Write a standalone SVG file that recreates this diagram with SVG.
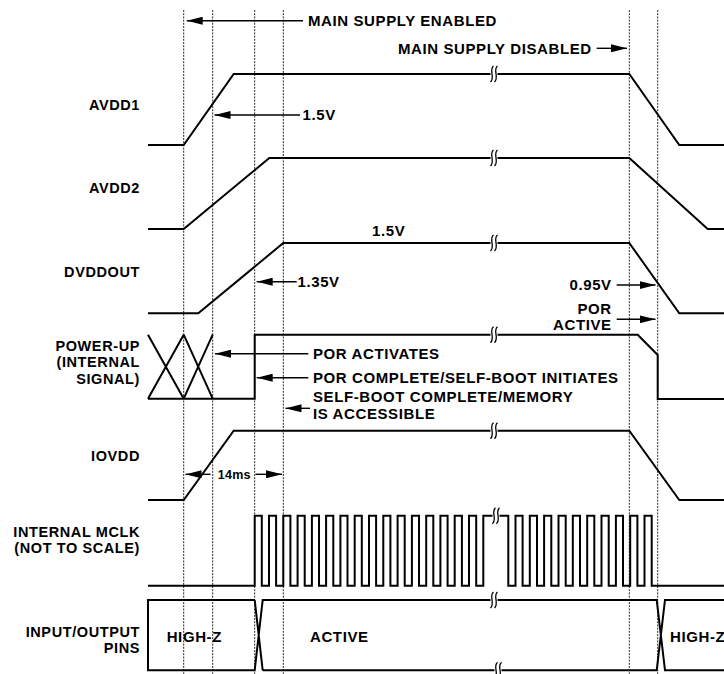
<svg xmlns="http://www.w3.org/2000/svg" xmlns:xlink="http://www.w3.org/1999/xlink" width="724" height="674" viewBox="0 0 724 674">
<style>
.sig{fill:none;stroke:#000;stroke-width:2;stroke-linejoin:miter}
.grid{stroke:#111;stroke-width:0.9;stroke-dasharray:2 1.2}
.arr{stroke:#000;stroke-width:1.4;fill:none}
.arrL{marker-end:url(#ah)}
text{font-family:"Liberation Sans",Arial,Helvetica,sans-serif;font-weight:bold;font-size:15px;letter-spacing:0.6px;fill:#000}
.lbl{text-anchor:end;font-size:14.5px}
.sm{font-size:12.5px;letter-spacing:0.3px}
.brk{fill:none;stroke:#000;stroke-width:1.3}
</style>
<defs>
<marker id="ah" markerUnits="userSpaceOnUse" viewBox="0 0 16 8" markerWidth="16" markerHeight="8" refX="16" refY="4" orient="auto">
<path d="M0,0 L16,4 L0,8 z" fill="#000"/>
</marker>
<g id="brk">
<rect x="-3.5" y="-3" width="7" height="6" fill="#fff"/>
<path class="brk" d="M-0.5,-8 C-5.5,-4 1.5,3 -3.5,8"/>
<path class="brk" d="M3.5,-8 C-1.5,-4 5.5,3 0.5,8"/>
</g>
</defs>
<rect width="724" height="674" fill="#fff"/>

<g id="gridlines">
<line class="grid" x1="183.7" y1="10" x2="183.7" y2="674"/>
<line class="grid" x1="212.7" y1="10" x2="212.7" y2="674"/>
<line class="grid" x1="254.7" y1="10" x2="254.7" y2="674"/>
<line class="grid" x1="283.3" y1="10" x2="283.3" y2="674"/>
<line class="grid" x1="629.3" y1="10" x2="629.3" y2="674"/>
<line class="grid" x1="657.7" y1="10" x2="657.7" y2="674"/>
</g>

<g id="avdd1">
<text class="lbl" x="140" y="110">AVDD1</text>
<path class="sig" d="M148,145 H183.7 L233.7,74 H629.3 L679.3,145 H724"/>
<use xlink:href="#brk" x="494" y="74"/>
</g>

<g id="avdd2">
<text class="lbl" x="140" y="192.5">AVDD2</text>
<path class="sig" d="M148,229 H183.7 L269.3,158 H629.3 L707.7,229 H724"/>
<use xlink:href="#brk" x="494" y="158"/>
</g>

<g id="dvddout">
<text class="lbl" x="140" y="276.5">DVDDOUT</text>
<path class="sig" d="M148,313.3 H198.3 L283.3,243 H629.3 L679.3,313.3 H724"/>
<use xlink:href="#brk" x="494" y="243"/>
<text x="372" y="235.5">1.5V</text>
</g>

<g id="powerup">
<text class="lbl" x="140" y="350.5">POWER-UP</text>
<text class="lbl" x="140" y="367">(INTERNAL</text>
<text class="lbl" x="140" y="384">SIGNAL)</text>
<path class="sig" d="M148,334.7 L183.7,398.7 M183.7,334.7 L148,398.7 M183.7,334.7 L212.7,398.7 M212.7,334.7 L183.7,398.7"/>
<path class="sig" d="M148,398.7 H254.7 V334.7 H637.7 L657.7,355 V399 H724"/>
<use xlink:href="#brk" x="494" y="334.7"/>
</g>

<g id="iovdd">
<text class="lbl" x="140" y="461">IOVDD</text>
<path class="sig" d="M148,500 H183.7 L233.7,430.7 H629.3 L679.3,500 H724"/>
<use xlink:href="#brk" x="494" y="430.7"/>
</g>

<g id="mclk">
<text class="lbl" x="140" y="537">INTERNAL MCLK</text>
<text class="lbl" x="140" y="552.5">(NOT TO SCALE)</text>
<path class="sig" d="M148,585.7 H254.7 V515.7 H261.8 V585.7 H269 V515.7 H276.1 V585.7 H283.3 V515.7 H290.4 V585.7 H297.6 V515.7 H304.7 V585.7 H311.9 V515.7 H319 V585.7 H326.1 V515.7 H333.3 V585.7 H340.4 V515.7 H347.5 V585.7 H354.7 V515.7 H361.8 V585.7 H369 V515.7 H376.1 V585.7 H383.3 V515.7 H390.4 V585.7 H397.6 V515.7 H404.7 V585.7 H411.9 V515.7 H419 V585.7 H426.2 V515.7 H433.3 V585.7 H440.4 V515.7 H447.6 V585.7 H454.7 V515.7 H461.9 V585.7 H469 V515.7 H476.2 V585.7 H483.3 V515.7 H508.3 V585.7 H515.5 V515.7 H522.6 V585.7 H529.8 V515.7 H537 V585.7 H544.1 V515.7 H551.3 V585.7 H558.5 V515.7 H565.7 V585.7 H572.8 V515.7 H580 V585.7 H587.2 V515.7 H594.3 V585.7 H601.5 V515.7 H608.7 V585.7 H615.9 V515.7 H623 V585.7 H630.2 V515.7 H637.4 V585.7 H644.5 V515.7 H651.7 V585.7 H724"/>
<use xlink:href="#brk" x="496" y="515.7"/>
</g>

<g id="iopins">
<text class="lbl" x="140" y="637">INPUT/OUTPUT</text>
<text class="lbl" x="140" y="653">PINS</text>
<path class="sig" d="M254.7,600 H148 V670.3 H254.7 L262.7,600 H656.7 L665,670.3 H724 M262.7,670.3 L254.7,600 M262.7,670.3 H656.7 L665,600 H724"/>
<use xlink:href="#brk" x="494" y="600"/>
<use xlink:href="#brk" x="498" y="670.3"/>
<text x="166.7" y="642">HIGH-Z</text>
<text x="310" y="642">ACTIVE</text>
<text x="670" y="642">HIGH-Z</text>
</g>

<g id="connectors">
<line class="arr arrL" x1="303" y1="20.7" x2="186.7" y2="20.7"/>
<line class="arr arrL" x1="596.7" y1="48.3" x2="627" y2="48.3"/>
<line class="arr arrL" x1="300" y1="115" x2="214.5" y2="115"/>
<line class="arr arrL" x1="296.7" y1="281.7" x2="256.7" y2="281.7"/>
<line class="arr arrL" x1="616.7" y1="285" x2="655.5" y2="285"/>
<line class="arr arrL" x1="616.7" y1="319.3" x2="655.5" y2="319.3"/>
<line class="arr arrL" x1="308.3" y1="353.7" x2="215" y2="353.7"/>
<line class="arr arrL" x1="308.3" y1="377.7" x2="256.7" y2="377.7"/>
<line class="arr arrL" x1="310" y1="408.3" x2="285.5" y2="408.3"/>
<line class="arr arrL" x1="210.5" y1="474.3" x2="185.5" y2="474.3"/>
<line class="arr arrL" x1="255.5" y1="474.3" x2="282" y2="474.3"/>
</g>

<g id="annotations">
<text x="308" y="26">MAIN SUPPLY ENABLED</text>
<text x="591.7" y="53.5" text-anchor="end">MAIN SUPPLY DISABLED</text>
<text x="302.5" y="120.3">1.5V</text>
<text x="297.5" y="287">1.35V</text>
<text x="611.7" y="290.3" text-anchor="end">0.95V</text>
<text x="611.7" y="313.5" text-anchor="end">POR</text>
<text x="611.7" y="329.5" text-anchor="end">ACTIVE</text>
<text x="313" y="359">POR ACTIVATES</text>
<text x="313" y="383">POR COMPLETE/SELF-BOOT INITIATES</text>
<text x="313" y="402">SELF-BOOT COMPLETE/MEMORY</text>
<text x="313" y="418.5">IS ACCESSIBLE</text>
<text class="sm" x="217.7" y="479">14ms</text>
</g>
</svg>
